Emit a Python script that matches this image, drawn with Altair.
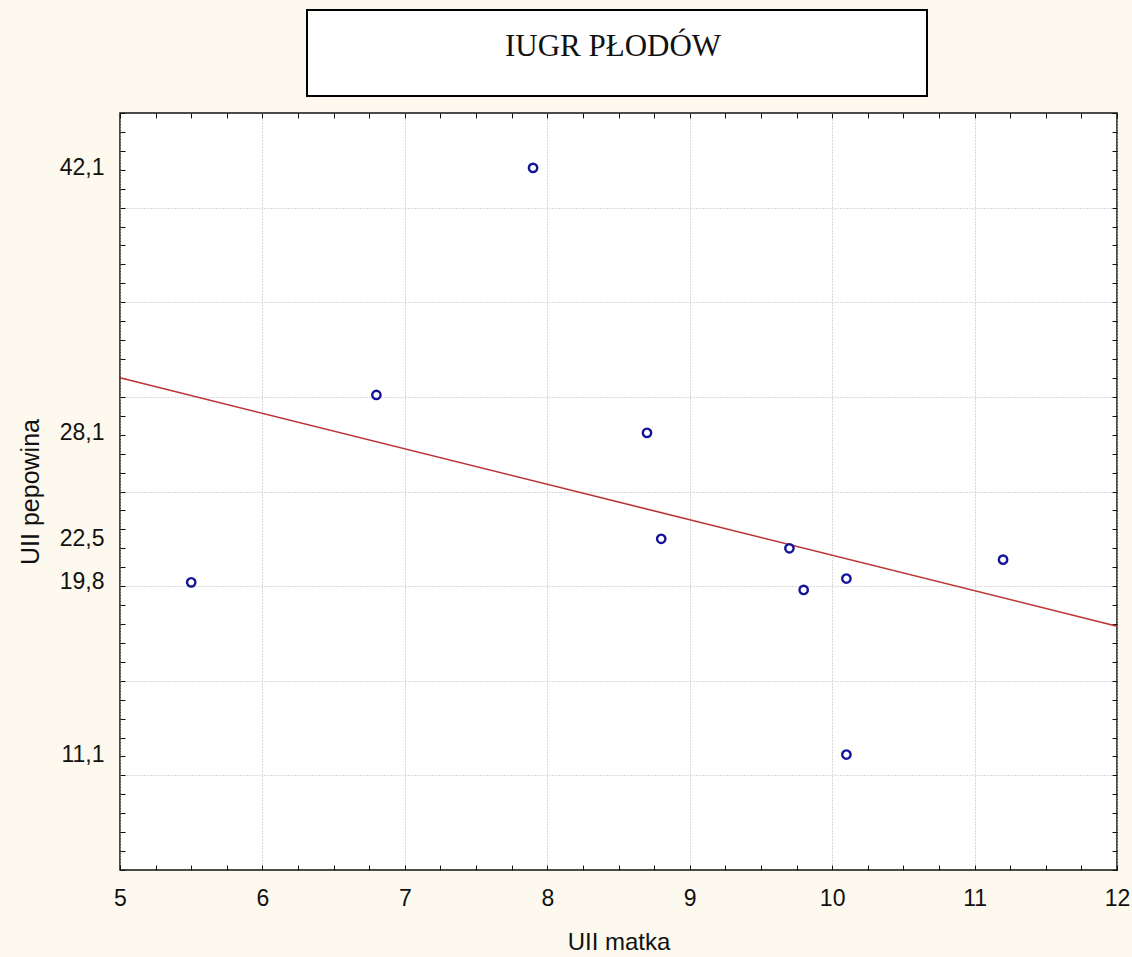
import altair as alt
import pandas as pd

# UII measurements: mother (matka) vs umbilical cord (pepowina)
matka = [5.5, 6.8, 7.9, 8.7, 8.8, 9.7, 9.8, 10.1, 10.1, 11.2]
pepowina = [20.2, 30.1, 42.1, 28.1, 22.5, 22.0, 19.8, 20.4, 11.1, 21.4]

x_labels = [5, 6, 7, 8, 9, 10, 11, 12]
y_labels = [11.1, 22.5, 28.1, 42.1]
y_label_low = [19.8]
y_grid = [10, 15, 20, 25, 30, 35, 40]
x_minor = [5 + 0.25 * i for i in range(29)]
y_minor = list(range(5, 46))

title_text = "IUGR PŁODÓW"

df = pd.DataFrame({"matka": matka, "pepowina": pepowina})
one = pd.DataFrame({"a": [0]})

xs = alt.Scale(domain=[5, 12], nice=False, zero=False)
ys = alt.Scale(domain=[5, 45], nice=False, zero=False)

LABEL_FONT = "Liberation Sans"
INK = "#111111"
GRID = dict(gridColor="#b4b4b4", gridDash=[1, 2], gridWidth=1)
comma_fmt = "replace(format(datum.value, '.1f'), '.', ',')"


def tick_axis(orient, values):
    # short tick marks pointing into the plot area
    return alt.Axis(orient=orient, values=values, labels=False, domain=False,
                    grid=False, ticks=True, tickSize=5, offset=-5,
                    tickColor=INK, tickWidth=1, title=None)


def y_label_axis(values, shift=0, title=None):
    if title:
        extra = dict(title=title, titleFont=LABEL_FONT, titleFontSize=25,
                     titleFontWeight="normal", titleColor=INK, titlePadding=16)
    else:
        extra = dict(title=None)
    return alt.Axis(orient="left", values=values, grid=False, ticks=False,
                    domain=False, labelPadding=16, labelFontSize=23,
                    labelFont=LABEL_FONT, labelColor=INK, labelOverlap=False,
                    labelOffset=shift, labelExpr=comma_fmt, **extra)


base = alt.Chart(df)

# horizontal gridlines every 5 units + minor ticks on top edge
grid_layer = base.mark_point(opacity=0).encode(
    x=alt.X("matka:Q", scale=xs, axis=tick_axis("top", x_minor)),
    y=alt.Y("pepowina:Q", scale=ys,
            axis=alt.Axis(orient="left", values=y_grid, grid=True, labels=False,
                          ticks=False, domain=False, title=None, **GRID)),
)

# fitted regression line + minor ticks on bottom / left edges
reg_line = base.transform_regression(
    "matka", "pepowina", extent=[5, 12]
).mark_line(color="#bb3333", strokeWidth=1.6).encode(
    x=alt.X("matka:Q", scale=xs, axis=tick_axis("bottom", x_minor)),
    y=alt.Y("pepowina:Q", scale=ys, axis=tick_axis("left", y_minor)),
)

# observations
points = base.mark_point(shape="circle", filled=False, size=70, strokeWidth=2.4,
                         opacity=1, color="#14149a").encode(
    x=alt.X("matka:Q", scale=xs,
            axis=alt.Axis(orient="bottom", values=x_labels, grid=True, **GRID,
                          ticks=False, domain=False, labelPadding=17,
                          labelFontSize=23, labelFont=LABEL_FONT,
                          labelColor=INK, labelFlush=False, labelOverlap=False,
                          title="UII matka", titleFont=LABEL_FONT,
                          titleFontSize=24, titleFontWeight="normal",
                          titleColor=INK, titlePadding=20)),
    y=alt.Y("pepowina:Q", scale=ys,
            axis=y_label_axis(y_labels, title="UII pepowina")),
)

# minor ticks on the right edge and the lowest value label
right_ticks = base.mark_point(opacity=0).encode(
    x=alt.X("matka:Q", scale=xs, axis=None),
    y=alt.Y("pepowina:Q", scale=ys, axis=tick_axis("right", y_minor)),
)
low_label = base.mark_point(opacity=0).encode(
    x=alt.X("matka:Q", scale=xs, axis=None),
    y=alt.Y("pepowina:Q", scale=ys, axis=y_label_axis(y_label_low, shift=-8)),
)

# boxed title above the plot
title_box = alt.Chart(one).mark_rect(
    fill="white", stroke="black", strokeWidth=2
).encode(
    x=alt.value(187), x2=alt.value(807), y=alt.value(-103), y2=alt.value(-17)
)
title_label = alt.Chart(one).mark_text(
    text=title_text, font="Liberation Serif", fontSize=31, color=INK,
    align="center", baseline="middle"
).encode(x=alt.value(493), y=alt.value(-66))

chart = alt.layer(
    grid_layer, reg_line, points, right_ticks, low_label, title_box, title_label
).resolve_axis(
    x="independent", y="independent"
).properties(
    width=997, height=757,
    autosize=alt.AutoSizeParams(type="none"),
    padding={"left": 120, "top": 113, "right": 15, "bottom": 87},
    background="#fdf9ee",
).configure_view(
    fill="white", stroke=INK, strokeWidth=1.5
)

chart.save("out.html", embed_options={"renderer": "svg", "actions": False})
